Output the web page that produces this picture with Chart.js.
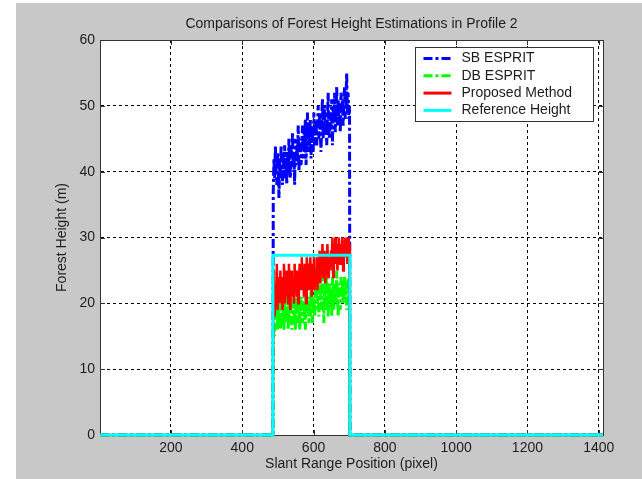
<!DOCTYPE html>
<html>
<head>
<meta charset="utf-8">
<script src="https://cdn.jsdelivr.net/npm/chart.js@4.4.1/dist/chart.umd.min.js"></script>
<style>
  body { margin: 0; background: #fff; }
  #wrap { position: absolute; left: 16px; top: 3px; width: 626px; height: 476px; background: #c8c8c8; }
</style>
</head>
<body>
<div id="wrap"><canvas id="heights" width="626" height="476"></canvas></div>
<script>
var chartTitle = "Comparisons of Forest Height Estimations in Profile 2";
var seriesNames = ["SB ESPRIT", "DB ESPRIT", "Proposed Method", "Reference Height"];

var xTicks = [200, 400, 600, 800, 1000, 1200, 1400];
var yTicks = [0, 10, 20, 30, 40, 50, 60];
var xStart = 1, xEnd = 1412;
var standStart = 486, standEnd = 702;
var refHeight = 27.3;

// slant range positions inside the forest stand
var sampleX = [487, 489, 491, 493, 495, 497, 499, 501, 503, 505, 507, 509, 511, 513, 515, 517, 519, 521, 523, 525,
               527, 529, 531, 533, 535, 537, 539, 541, 543, 545, 547, 549, 551, 553, 555, 557, 559, 561, 563, 565,
               567, 569, 571, 573, 575, 577, 579, 581, 583, 585, 587, 589, 591, 593, 595, 597, 599, 601, 603, 605,
               607, 609, 611, 613, 615, 617, 619, 621, 623, 625, 627, 629, 631, 633, 635, 637, 639, 641, 643, 645,
               647, 649, 651, 653, 655, 657, 659, 661, 663, 665, 667, 669, 671, 673, 675, 677, 679, 681, 683, 685,
               687, 689, 691, 693, 695, 697, 699, 701];

var sbEsprit = [37, 42, 39, 44, 40, 38, 43, 41, 36, 42, 39, 44, 41, 38, 43, 40, 44, 39, 42, 38,
                43, 40, 45, 41, 39, 44, 42, 46, 40, 43, 38, 45, 41, 44, 42, 47, 40, 43, 45, 41,
                44, 47, 42, 46, 43, 48, 41, 45, 49, 43, 46, 44, 48, 42, 47, 45, 43, 49, 44, 46,
                48, 44, 47, 50, 45, 49, 46, 43, 48, 51, 45, 47, 50, 46, 49, 44, 48, 52, 46, 45,
                49, 47, 51, 44, 50, 48, 52, 46, 49, 53, 47, 51, 48, 50, 46, 52, 49, 51, 47, 50,
                53, 48, 51, 55, 49, 52, 48, 50];

var dbEsprit = [17, 20, 15, 19, 18, 21, 16, 19, 17, 20, 16, 18, 21, 17, 19, 16, 20, 18, 17, 21,
                18, 16, 20, 17, 19, 21, 16, 18, 20, 17, 19, 16, 21, 18, 17, 20, 19, 16, 18, 21,
                19, 17, 21, 18, 20, 16, 22, 18, 19, 21, 17, 20, 18, 22, 19, 17, 21, 20, 18, 23,
                19, 22, 20, 24, 18, 21, 23, 19, 22, 25, 20, 17, 23, 21, 19, 24, 22, 18, 21, 23,
                20, 22, 18, 24, 21, 19, 23, 22, 20, 25, 21, 18, 23, 22, 19, 24, 21, 23, 20, 22,
                24, 21, 23, 19, 22, 24, 21, 23];

var proposed = [20, 25, 18, 23, 21, 26, 19, 24, 22, 20, 25, 21, 24, 19, 23, 26, 20, 22, 25, 21,
                24, 20, 26, 22, 19, 25, 21, 24, 23, 20, 26, 22, 25, 21, 24, 20, 23, 26, 22, 24,
                27, 22, 25, 21, 26, 24, 20, 27, 23, 26, 22, 25, 27, 23, 21, 26, 24, 27, 22, 25,
                24, 27, 22, 26, 25, 28, 23, 27, 25, 29, 24, 26, 28, 23, 27, 25, 29, 24, 27, 26,
                25, 28, 26, 30, 24, 29, 27, 30, 26, 29, 25, 28, 30, 27, 26, 29, 28, 30, 25, 29,
                28, 30, 27, 29, 26, 30, 28, 29];

function profile(vals) {
  var pts = [{x: xStart, y: 0}, {x: standStart, y: 0}];
  for (var i = 0; i < sampleX.length; i++) pts.push({x: sampleX[i], y: vals[i]});
  pts.push({x: standEnd, y: 0}, {x: xEnd, y: 0});
  return pts;
}

var reference = [
  {x: xStart, y: 0}, {x: standStart, y: 0}, {x: standStart, y: refHeight},
  {x: standEnd, y: refHeight}, {x: standEnd, y: 0}, {x: xEnd, y: 0}
];

var font = "'Liberation Sans', Arial, sans-serif";
var textColor = "#1e1e1e";

var matlabFrame = {
  id: "matlabFrame",
  beforeDraw: function(chart) {
    var a = chart.chartArea, ctx = chart.ctx;
    ctx.save();
    ctx.fillStyle = "#fff";
    ctx.fillRect(a.left, a.top, a.right - a.left, a.bottom - a.top);
    ctx.restore();
  },
  beforeDatasetsDraw: function(chart) {
    var a = chart.chartArea, ctx = chart.ctx;
    var xs = chart.scales.x, ys = chart.scales.y;
    ctx.save();
    ctx.strokeStyle = "#333";
    ctx.lineWidth = 1;
    ctx.beginPath();
    xTicks.forEach(function(v) {
      var px = Math.round(xs.getPixelForValue(v)) + 0.5;
      ctx.moveTo(px, a.bottom); ctx.lineTo(px, a.bottom - 5);
      ctx.moveTo(px, a.top); ctx.lineTo(px, a.top + 5);
    });
    yTicks.forEach(function(v) {
      var py = Math.round(ys.getPixelForValue(v)) + 0.5;
      ctx.moveTo(a.left, py); ctx.lineTo(a.left + 5, py);
      ctx.moveTo(a.right, py); ctx.lineTo(a.right - 5, py);
    });
    ctx.stroke();
    ctx.strokeRect(Math.round(a.left) + 0.5, Math.round(a.top) + 0.5, Math.round(a.right - a.left), Math.round(a.bottom - a.top));
    ctx.restore();
  },
  afterDraw: function(chart) {
    var a = chart.chartArea, ctx = chart.ctx;
    ctx.save();
    ctx.fillStyle = textColor;
    ctx.font = "14px " + font;
    ctx.textAlign = "center";
    ctx.textBaseline = "middle";
    ctx.fillText(chartTitle, (a.left + a.right) / 2, 21);

    // legend box inside the axes, top right
    var bw = 178, bh = 74;
    var bx = Math.round(a.right - 10 - bw) + 0.5, by = Math.round(a.top + 7) + 0.5;
    ctx.fillStyle = "#fff";
    ctx.fillRect(bx, by, bw, bh);
    ctx.strokeStyle = "#333";
    ctx.lineWidth = 1;
    ctx.strokeRect(bx, by, bw, bh);
    chart.data.datasets.forEach(function(ds, i) {
      var ry = by + 11 + i * 17.3;
      ctx.strokeStyle = ds.borderColor;
      ctx.lineWidth = 3;
      ctx.setLineDash(ds.borderDash || []);
      ctx.beginPath();
      ctx.moveTo(bx + 8, ry); ctx.lineTo(bx + 36, ry);
      ctx.stroke();
      ctx.setLineDash([]);
      ctx.fillStyle = textColor;
      ctx.textAlign = "left";
      ctx.fillText(ds.label, bx + 46, ry);
    });
    ctx.restore();
  }
};

var ctx = document.getElementById("heights").getContext("2d");
var heightChart = new Chart(ctx, {
  type: "line",
  data: {
    datasets: [{
      label: seriesNames[0],
      data: profile(sbEsprit),
      borderColor: "#0000ff",
      borderWidth: 3,
      borderDash: [9, 3, 3, 3],
      order: 3
    }, {
      label: seriesNames[1],
      data: profile(dbEsprit),
      borderColor: "#00ff00",
      borderWidth: 3,
      borderDash: [9, 3, 3, 3],
      order: 2
    }, {
      label: seriesNames[2],
      data: profile(proposed),
      borderColor: "#ff0000",
      borderWidth: 2.5,
      order: 1
    }, {
      label: seriesNames[3],
      data: reference,
      borderColor: "#00ffff",
      borderWidth: 3,
      order: 0
    }]
  },
  options: {
    responsive: false,
    animation: false,
    clip: 3,
    layout: { padding: { top: 37, right: 39, left: 0, bottom: 0 } },
    elements: { point: { radius: 0 }, line: { tension: 0 } },
    plugins: { legend: { display: false }, tooltip: { enabled: false } },
    scales: {
      x: {
        type: "linear",
        min: xStart,
        max: xEnd,
        afterBuildTicks: function(axis) { axis.ticks = xTicks.map(function(v) { return {value: v}; }); },
        afterFit: function(axis) { axis.height = 44; },
        grid: { color: "#000", lineWidth: 1, drawTicks: false },
        border: { display: true, color: "#333", dash: [3, 3] },
        ticks: { color: textColor, font: { family: font, size: 14 }, padding: 5, maxRotation: 0,
                 callback: function(v) { return String(v); } },
        title: { display: true, text: "Slant Range Position (pixel)", color: textColor,
                 font: { family: font, size: 14 }, padding: { top: 0, bottom: 6 } }
      },
      y: {
        min: 0,
        max: 60,
        afterBuildTicks: function(axis) { axis.ticks = yTicks.map(function(v) { return {value: v}; }); },
        afterFit: function(axis) { axis.width = 84; },
        grid: {
          color: function(c) { return (c.tick && (c.tick.value === 0 || c.tick.value === 60)) ? "rgba(0,0,0,0)" : "#000"; },
          lineWidth: 1, drawTicks: false
        },
        border: { display: true, color: "#333", dash: [3, 3] },
        ticks: { color: textColor, font: { family: font, size: 14 }, padding: 5,
                 callback: function(v) { return String(v); } },
        title: { display: true, text: "Forest Height (m)", color: textColor,
                 font: { family: font, size: 14 }, padding: { top: 38, bottom: 0 } }
      }
    }
  },
  plugins: [matlabFrame]
});
</script>
</body>
</html>
